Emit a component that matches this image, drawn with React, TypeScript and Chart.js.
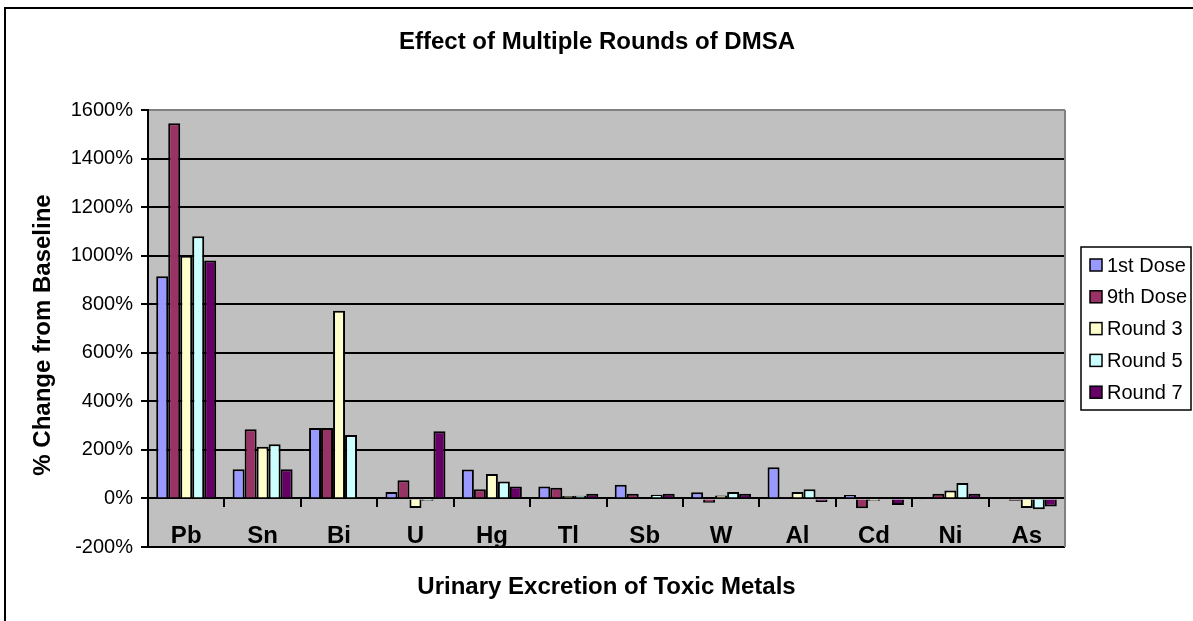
import React, { useEffect, useRef } from "react";
import { Chart, registerables } from "chart.js";

Chart.register(...registerables);

const categories = ["Pb", "Sn", "Bi", "U", "Hg", "Tl", "Sb", "W", "Al", "Cd", "Ni", "As"];
const seriesNames = ["1st Dose", "9th Dose", "Round 3", "Round 5", "Round 7"];
const firstDose = [915, 120, 290, 27, 119, 49, 56, 26, 128, 14, -3, 0];
const ninthDose = [1545, 285, 290, 75, 38, 44, 19, -18, 2, -40, 19, -9];
const round3 = [1000, 213, 773, -39, 101, 10, 0, 12, 27, -10, 33, -39];
const round5 = [1080, 223, 261, -10, 70, 11, 15, 27, 38, 0, 64, -44];
const round7 = [980, 120, 3, 277, 49, 19, 19, 19, -15, -27, 19, -33];
const seriesColors = ["#9999FF", "#993366", "#FFFFCC", "#CCFFFF", "#660066"];
const yTicks = [-200, 0, 200, 400, 600, 800, 1000, 1200, 1400, 1600];

const chartTitle = "Effect of Multiple Rounds of DMSA";
const xTitle = "Urinary Excretion of Toxic Metals";
const yTitle = "% Change from Baseline";

const FONT = '"Liberation Sans", Arial, sans-serif';

const decorPlugin = {
  id: "decor",
  beforeDraw(chart: any) {
    const { ctx, chartArea: a } = chart;
    ctx.save();
    ctx.fillStyle = "#FFFFFF";
    ctx.fillRect(0, 0, chart.width, chart.height);
    ctx.strokeStyle = "#000000";
    ctx.lineWidth = 2;
    ctx.strokeRect(5, 8, chart.width + 20, chart.height + 20);
    ctx.fillStyle = "#C0C0C0";
    ctx.fillRect(a.left, a.top, a.right - a.left, a.bottom - a.top);
    ctx.restore();
  },
  afterDraw(chart: any) {
    const { ctx, chartArea: a } = chart;
    ctx.save();
    ctx.strokeStyle = "#808080";
    ctx.lineWidth = 2;
    ctx.beginPath();
    ctx.moveTo(a.right, a.top);
    ctx.lineTo(a.right, a.bottom);
    ctx.stroke();

    ctx.fillStyle = "#000000";
    ctx.font = "bold 24px " + FONT;
    ctx.textAlign = "center";
    ctx.textBaseline = "middle";
    ctx.fillText(chartTitle, 597, 42);
    ctx.fillText(xTitle, (a.left + a.right) / 2, 587);
    ctx.save();
    ctx.translate(43, 335);
    ctx.rotate(-Math.PI / 2);
    ctx.fillText(yTitle, 0, 0);
    ctx.restore();

    const lx = 1081, ly = 247, lw = 110, lh = 163;
    ctx.strokeStyle = "#000000";
    ctx.lineWidth = 1.5;
    ctx.strokeRect(lx, ly, lw, lh);
    ctx.font = "20px " + FONT;
    ctx.textAlign = "left";
    chart.data.datasets.forEach((ds: any, i: number) => {
      const cy = 265 + i * 31.8;
      ctx.fillStyle = ds.backgroundColor;
      ctx.fillRect(1090, cy - 6, 12, 12);
      ctx.strokeStyle = "#000000";
      ctx.lineWidth = 1.5;
      ctx.strokeRect(1090, cy - 6, 12, 12);
      ctx.fillStyle = "#000000";
      ctx.fillText(ds.label, 1107, cy + 1);
    });
    ctx.restore();
  },
};

export default function App() {
  const ref = useRef<HTMLCanvasElement>(null);
  useEffect(() => {
    if (!ref.current) return;
    const allSeries = [firstDose, ninthDose, round3, round5, round7];
    const chart = new Chart(ref.current, {
      type: "bar",
      data: {
        labels: categories,
        datasets: allSeries.map((d, i) => ({
          label: seriesNames[i],
          data: d,
          backgroundColor: seriesColors[i],
          borderColor: "#000000",
          borderWidth: 2,
          categoryPercentage: 0.785,
          barPercentage: 1,
        })),
      },
      options: {
        responsive: false,
        animation: false,
        layout: { padding: { left: 48, top: 110, right: 128, bottom: 74 } },
        plugins: {
          legend: { display: false },
          title: { display: false },
          tooltip: { enabled: false },
        },
        scales: {
          x: {
            type: "category",
            position: { y: 0 } as any,
            grid: {
              display: true,
              drawOnChartArea: false,
              drawTicks: true,
              tickLength: 8,
              color: "#000000",
              lineWidth: 2,
              offset: true,
            },
            border: { display: true, color: "#000000", width: 2 },
            ticks: {
              color: "#000000",
              font: { family: FONT, size: 24, weight: "bold" },
              padding: 16,
              maxRotation: 0,
            },
          },
          y: {
            min: -200,
            max: 1600,
            afterFit: (s: any) => {
              s.width = 100;
            },
            afterBuildTicks: (s: any) => {
              s.ticks = yTicks.map((v) => ({ value: v }));
            },
            grid: {
              color: (c: any) => (c.tick && c.tick.value === 1600 ? "#808080" : "#000000"),
              tickColor: "#000000",
              lineWidth: 2,
              tickLength: 7,
            },
            border: { display: true, color: "#000000", width: 2 },
            ticks: {
              color: "#000000",
              font: { family: FONT, size: 20 },
              padding: 8,
              callback: (v: any) => v + "%",
            },
          },
        },
      },
      plugins: [decorPlugin],
    });
    return () => chart.destroy();
  }, []);
  return (
    <div style={{ position: "absolute", left: 0, top: 0, width: 1193, height: 621 }}>
      <canvas ref={ref} width={1193} height={621} style={{ display: "block" }} />
    </div>
  );
}
